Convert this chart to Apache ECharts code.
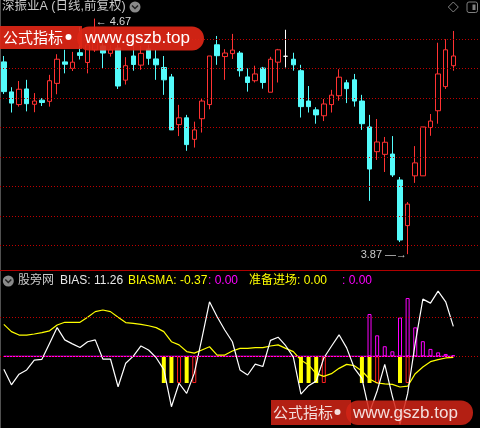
<!DOCTYPE html>
<html><head><meta charset="utf-8">
<script src="https://cdn.jsdelivr.net/npm/echarts@6/dist/echarts.min.js"></script>
<style>html,body{margin:0;padding:0;background:#000;}#c{width:480px;height:428px;}</style>
</head><body><div id="c"></div>
<script>
// ---- price pane (one entry per trading day) ----
const opens  = [4.523,4.421,4.378,4.431,4.379,4.393,4.389,4.450,4.523,4.501,
                4.554,4.521,4.564,4.577,4.552,4.570,4.461,4.543,4.512,4.567,
                4.533,4.504,4.472,4.310,4.333,4.260,4.330,4.378,4.581,4.541,
                4.551,4.553,4.472,4.459,4.502,4.420,4.522,4.542,4.532,4.493,
                4.390,4.360,4.340,4.378,4.408,4.452,4.462,4.390,4.302,4.218,
                4.209,4.210,4.122,3.967,4.136,4.136,4.300,4.357,4.439,4.510];
const closes = [4.422,4.383,4.430,4.381,4.390,4.385,4.459,4.532,4.515,4.522,
                4.545,4.581,4.615,4.553,4.564,4.441,4.510,4.514,4.552,4.535,
                4.513,4.462,4.292,4.333,4.242,4.292,4.390,4.543,4.544,4.553,
                4.563,4.493,4.453,4.482,4.453,4.532,4.564,4.542,4.513,4.371,
                4.371,4.343,4.380,4.410,4.471,4.432,4.390,4.313,4.159,4.251,
                4.250,4.139,3.918,4.040,4.180,4.302,4.322,4.482,4.564,4.543];
const lows   = [4.414,4.351,4.371,4.355,4.352,4.373,4.371,4.413,4.484,4.492,
                4.531,4.484,4.557,4.501,4.541,4.431,4.446,4.493,4.496,4.513,
                4.462,4.411,4.292,4.271,4.221,4.232,4.283,4.362,4.513,4.462,
                4.533,4.473,4.422,4.453,4.432,4.420,4.453,4.504,4.493,4.334,
                4.351,4.313,4.322,4.351,4.391,4.383,4.371,4.292,4.051,4.190,
                4.149,4.132,3.911,3.870,4.112,4.136,4.272,4.313,4.431,4.493];
const highs  = [4.543,4.437,4.458,4.462,4.417,4.400,4.479,4.549,4.564,4.557,
                4.641,4.604,4.670,4.591,4.581,4.581,4.539,4.586,4.577,4.581,
                4.564,4.543,4.482,4.377,4.343,4.320,4.400,4.543,4.611,4.566,
                4.618,4.560,4.501,4.510,4.506,4.540,4.567,4.632,4.554,4.513,
                4.441,4.369,4.397,4.428,4.498,4.462,4.482,4.411,4.343,4.329,
                4.268,4.271,4.132,4.047,4.237,4.302,4.346,4.588,4.600,4.628];
const priceGridLevels = [4.6, 4.5, 4.4, 4.3, 4.2, 4.1, 4.0, 3.9];

// ---- indicator pane ----
const bias   = [-4.8,-10.7,-6.7,-5.1,-1.4,-1.1,4.8,10.8,6.2,4.7,
                3.3,5.5,6.2,-1.0,-1.0,-11.4,-2.6,0.1,3.9,2.4,
                -0.5,-5.0,-18.9,-10.1,-13.9,-6.4,6.8,20.5,14.9,9.9,
                5.5,-5.1,-7.0,-2.9,-3.8,6.0,7.2,4.0,-0.3,-14.2,
                -11.0,-9.3,-0.6,3.8,8.1,3.2,-4.4,-8.3,-21.0,-13.0,
                -3.0,-15.0,-25.5,-14.0,5.0,21.5,20.0,24.5,20.5,11.26];
const biasMa = [12.0,9.3,8.0,8.0,8.4,8.9,9.6,11.8,12.8,12.8,
                12.8,14.7,16.8,17.4,16.8,14.7,12.7,12.4,12.0,11.5,
                10.8,9.3,5.5,4.3,1.8,1.2,2.4,3.6,0.5,0.5,
                2.0,3.0,3.0,3.3,3.3,3.9,4.3,3.0,1.8,-1.4,
                -3.2,-6.5,-7.5,-6.5,-4.5,-3.0,-3.5,-5.5,-8.5,-10.0,
                -10.3,-10.5,-11.5,-11.2,-6.5,-4.0,-2.0,-1.2,-0.6,-0.37];
const baseLine = [0,0,0,0,0,0,0,0,0,0, 0,0,0,0,0,0,0,0,0,0,
                  0,0,0,0,0,0,0,0,0,0, 0,0,0,0,0,0,0,0,0,0,
                  0,0,0,0,0,0,0,0,0,0, 0,0,0,0,0,0,0,0,0,0];
const _ = null;
const readyDown = [_,_,_,_,_,_,_,_,_,_, _,_,_,_,_,_,_,_,_,_,
                   _,-10,-10,_,-10,_,_,_,_,_, _,_,_,_,_,_,_,_,_,-10,
                   -10,-10,_,_,_,_,_,-10,-10,_, _,_,-10,_,_,_,_,_,_,_];
const readyUp   = [_,_,_,_,_,_,_,_,_,_, _,_,_,_,_,_,_,_,_,_,
                   _,_,_,-10,_,-10,_,_,_,_, _,_,_,_,_,_,_,_,_,_,
                   _,_,-10,_,_,_,_,_,_,-10, _,_,_,-10,_,_,_,_,_,_];
const pinkBars  = [_,_,_,_,_,_,_,_,_,_, _,_,_,_,_,_,_,_,_,_,
                   _,_,_,_,_,_,_,_,_,_, _,_,_,_,_,_,_,_,_,_,
                   _,_,_,_,_,_,_,_,15.9,7.9, 3.8,1.9,14.6,21.9,10.9,5.7,2.8,1.5,0.9,0.4];
const biasGridLevels = [14.6, 0];
const readyValue = 0.00, pinkValue = 0.00, zeroValue = 0.00;

// ---- build ----
const N = opens.length;
const categories = [];
for (let i = 0; i < N + 3; i++) categories.push(i < N ? 'D' + (i + 1) : '');
const kData = opens.map((o, i) => [o, closes[i], lows[i], highs[i]]);
let hiIdx = 0, loIdx = 0;
highs.forEach((h, i) => { if (h > highs[hiIdx]) hiIdx = i; });
lows.forEach((l, i) => { if (l < lows[loIdx]) loIdx = i; });

const dotted = { type: [1, 2], color: '#C00000', width: 1 };
const FONT = '"Liberation Sans","Noto Sans CJK SC",sans-serif';

const chart = echarts.init(document.getElementById('c'), null, { renderer: 'canvas' });
chart.setOption({
  backgroundColor: '#000000',
  animation: false,
  grid: [
    { left: 0, right: 0, top: 18, height: 250 },
    { left: 0, right: 0, top: 285, height: 143 }
  ],
  xAxis: [
    { type: 'category', gridIndex: 0, data: categories, show: false, boundaryGap: true },
    { type: 'category', gridIndex: 1, data: categories, show: false, boundaryGap: true }
  ],
  yAxis: [
    { type: 'value', gridIndex: 0, min: 3.823, max: 4.672, show: false, splitLine: { show: false } },
    { type: 'value', gridIndex: 1, min: -26.9, max: 26.8, show: false, splitLine: { show: false } }
  ],
  series: [
    {
      type: 'candlestick', xAxisIndex: 0, yAxisIndex: 0, data: kData, barWidth: 5,
      itemStyle: { color: '#000000', color0: '#54FCFC', borderColor: '#FF3232', borderColor0: '#54FCFC',
                   borderColorDoji: '#FFFFFF', borderWidth: 1 },
      markLine: { silent: true, symbol: ['none', 'none'], label: { show: false }, lineStyle: dotted,
                  data: priceGridLevels.map(v => ({ yAxis: v })) },
      markPoint: {
        silent: true, symbol: 'circle', symbolSize: 1, itemStyle: { color: 'rgba(0,0,0,0)' },
        data: [
          { coord: [hiIdx, highs[hiIdx]], label: { show: true, position: 'right', distance: 0, offset: [0, 3],
            formatter: '\u2190 ' + highs[hiIdx].toFixed(2), color: '#D8D8D8', fontSize: 11, fontFamily: FONT } },
          { coord: [loIdx, lows[loIdx]], label: { show: true, position: 'left', distance: 0, offset: [0, 1],
            formatter: lows[loIdx].toFixed(2) + ' \u2014\u2192', color: '#C8C8C8', fontSize: 11, fontFamily: FONT } }
        ]
      }
    },
    { type: 'bar', xAxisIndex: 1, yAxisIndex: 1, data: readyDown, barWidth: 4, barGap: '-100%',
      itemStyle: { color: '#FFFF00' },
      markLine: { silent: true, symbol: ['none', 'none'], label: { show: false }, lineStyle: dotted,
                  data: biasGridLevels.map(v => ({ yAxis: v })) } },
    { type: 'bar', xAxisIndex: 1, yAxisIndex: 1, data: readyUp, barWidth: 4, barGap: '-100%',
      itemStyle: { color: '#000000', borderColor: '#FF2020', borderWidth: 1 } },
    { type: 'bar', xAxisIndex: 1, yAxisIndex: 1, data: pinkBars, barWidth: 4, barGap: '-100%',
      itemStyle: { color: 'rgba(0,0,0,0)', borderColor: '#FF00FF', borderWidth: 1 } },
    { type: 'line', xAxisIndex: 1, yAxisIndex: 1, data: baseLine, symbol: 'none',
      lineStyle: { color: '#FF00FF', width: 1.2 } },
    { type: 'line', xAxisIndex: 1, yAxisIndex: 1, data: biasMa, symbol: 'none',
      lineStyle: { color: '#FFFF00', width: 1.2 } },
    { type: 'line', xAxisIndex: 1, yAxisIndex: 1, data: bias, symbol: 'none',
      lineStyle: { color: '#FFFFFF', width: 1.2 } }
  ],
  graphic: [
    { type: 'line', shape: { x1: 0.5, y1: 0, x2: 0.5, y2: 428 }, style: { stroke: '#505050', lineWidth: 1 } },
    { type: 'line', shape: { x1: 0, y1: 270.5, x2: 480, y2: 270.5 }, style: { stroke: '#B00000', lineWidth: 1 } },
    { type: 'text', x: 2, y: 7, style: { text: '深振业A (日线,前复权)', fill: '#C8C8C8', font: '12.5px ' + FONT, verticalAlign: 'middle' } },
    { type: 'circle', shape: { cx: 135, cy: 7, r: 5.5 }, style: { fill: '#8A8A8A' } },
    { type: 'polyline', shape: { points: [[132, 5.5], [135, 8.5], [138, 5.5]] }, style: { stroke: '#222', lineWidth: 1.5, fill: null } },
    { type: 'polygon', shape: { points: [[453.3, 2], [458.3, 7], [453.3, 12], [448.3, 7]] }, style: { stroke: '#808080', fill: null, lineWidth: 1 } },
    { type: 'rect', shape: { x: 467, y: 2, width: 10.5, height: 10.5, r: 2 }, style: { stroke: '#808080', fill: null, lineWidth: 1 } },
    { type: 'rect', shape: { x: 472.5, y: 4.5, width: 3, height: 5.5 }, style: { fill: '#808080' } },

    { type: 'circle', shape: { cx: 8.3, cy: 281, r: 5.5 }, style: { fill: '#8A8A8A' } },
    { type: 'polyline', shape: { points: [[5.3, 279.5], [8.3, 282.5], [11.3, 279.5]] }, style: { stroke: '#222', lineWidth: 1.5, fill: null } },
    { type: 'text', x: 18, y: 281, style: { text: '股旁网', fill: '#C8C8C8', font: '12px ' + FONT, verticalAlign: 'middle' } },
    { type: 'text', x: 60, y: 281, style: { text: 'BIAS: ' + bias[N - 1].toFixed(2), fill: '#E8E8E8', font: '12px ' + FONT, verticalAlign: 'middle' } },
    { type: 'text', x: 128, y: 281, style: { text: 'BIASMA: ' + biasMa[N - 1].toFixed(2), fill: '#FFFF00', font: '12px ' + FONT, verticalAlign: 'middle' } },
    { type: 'text', x: 208, y: 281, style: { text: ': ' + zeroValue.toFixed(2), fill: '#FF00FF', font: '12px ' + FONT, verticalAlign: 'middle' } },
    { type: 'text', x: 249, y: 281, style: { text: '准备进场: ' + readyValue.toFixed(2), fill: '#FFFF00', font: '12px ' + FONT, verticalAlign: 'middle' } },
    { type: 'text', x: 342, y: 281, style: { text: ': ' + pinkValue.toFixed(2), fill: '#FF00FF', font: '12px ' + FONT, verticalAlign: 'middle' } },

    // watermark (top)
    { type: 'rect', z: 100, shape: { x: 0, y: 26, width: 82, height: 23 }, style: { fill: 'rgba(222,38,22,0.93)' } },
    { type: 'text', z: 101, x: 3, y: 37.5, style: { text: '公式指标', fill: '#FFFFFF', font: '15px "Noto Sans CJK SC"', verticalAlign: 'middle' } },
    { type: 'circle', z: 101, shape: { cx: 68.5, cy: 37, r: 3 }, style: { fill: '#FFFFFF' } },
    { type: 'rect', z: 100, shape: { x: 77, y: 26.5, width: 127, height: 24, r: 12 }, style: { fill: 'rgba(222,38,22,0.93)' } },
    { type: 'text', z: 101, x: 85, y: 38.5, style: { text: 'www.gszb.top', fill: '#FFFFFF', font: '17px "Liberation Sans"', verticalAlign: 'middle' } },
    // watermark (bottom)
    { type: 'rect', z: 100, shape: { x: 271, y: 400, width: 80, height: 25 }, style: { fill: 'rgba(210,36,22,0.85)' } },
    { type: 'text', z: 101, x: 273, y: 412.5, style: { text: '公式指标', fill: 'rgba(255,255,255,0.85)', font: '15px "Noto Sans CJK SC"', verticalAlign: 'middle' } },
    { type: 'circle', z: 101, shape: { cx: 337.5, cy: 412, r: 3 }, style: { fill: 'rgba(255,255,255,0.85)' } },
    { type: 'rect', z: 100, shape: { x: 346, y: 400.5, width: 127, height: 24.5, r: 12 }, style: { fill: 'rgba(210,36,22,0.85)' } },
    { type: 'text', z: 101, x: 353, y: 413, style: { text: 'www.gszb.top', fill: 'rgba(255,255,255,0.85)', font: '17px "Liberation Sans"', verticalAlign: 'middle' } }
  ]
});
</script>
</body></html>
